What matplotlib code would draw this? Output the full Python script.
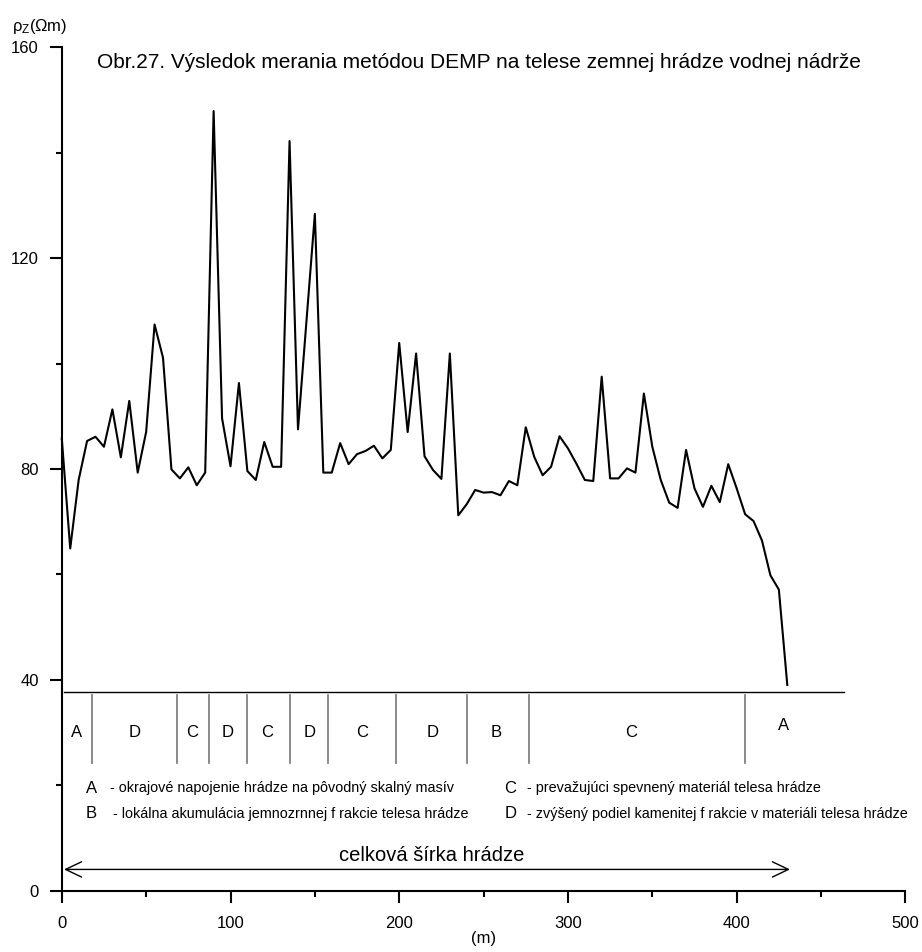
import matplotlib
matplotlib.use("Agg")
import matplotlib.pyplot as plt
from matplotlib.ticker import MultipleLocator

plt.rcParams['font.family'] = ['Liberation Sans', 'DejaVu Sans']
plt.rcParams['mathtext.fontset'] = 'custom'
plt.rcParams['mathtext.rm'] = 'Liberation Sans'
plt.rcParams['mathtext.it'] = 'Liberation Sans'

# distance along the dam (m) and apparent resistivity (Ohm m)
dist = [0, 5, 10, 15, 20, 25, 30, 35, 40, 45, 50, 55, 60, 65, 70, 75, 80, 85,
        90, 95, 100, 105, 110, 115, 120, 125, 130, 135, 140, 150, 155, 160,
        165, 170, 175, 180, 185, 190, 195, 200, 205, 210, 215, 220, 225, 230,
        235, 240, 245, 250, 255, 260, 265, 270, 275, 280, 285, 290, 295, 300,
        305, 310, 315, 320, 325, 330, 335, 340, 345, 350, 355, 360, 365, 370,
        375, 380, 385, 390, 395, 400, 405, 410, 415, 420, 425, 430]
rho = [85.8, 64.9, 77.9, 85.3, 86.1, 84.2, 91.3, 82.2, 92.9, 79.3, 87.0,
       107.4, 101.1, 79.9, 78.2, 80.3, 76.9, 79.3, 147.9, 89.6, 80.5, 96.3,
       79.6, 77.9, 85.1, 80.4, 80.4, 142.2, 87.5, 128.4, 79.3, 79.3, 84.9,
       80.9, 82.8, 83.4, 84.4, 82.0, 83.6, 103.9, 87.0, 101.9, 82.4, 79.8,
       78.1, 101.9, 71.2, 73.3, 76.0, 75.5, 75.6, 75.0, 77.7, 76.9, 87.9,
       82.3, 78.8, 80.4, 86.2, 83.9, 81.0, 77.9, 77.7, 97.5, 78.2, 78.2,
       80.1, 79.3, 94.3, 84.2, 77.9, 73.6, 72.6, 83.6, 76.3, 72.8, 76.8,
       73.7, 80.9, 76.3, 71.4, 70.1, 66.4, 59.8, 57.1, 39.0]

# zones along the dam
zone_bounds = [18, 68, 87, 110, 135, 158, 198, 240, 277, 405]
zone_letters = ['A', 'D', 'C', 'D', 'C', 'D', 'C', 'D', 'B', 'C', 'A']
zone_centers = [9, 43, 77, 98.5, 122, 147, 178, 219.5, 257.5, 337.5, 427.5]

legend_keys = ['A', 'B', 'C', 'D']
legend_texts = ['- okrajové napojenie hrádze na pôvodný skalný masív',
                '- lokálna akumulácia jemnozrnnej f rakcie telesa hrádze',
                '- prevažujúci spevnený materiál telesa hrádze',
                '- zvýšený podiel kamenitej f rakcie v materiáli telesa hrádze']

fig = plt.figure(figsize=(9.22, 9.52), dpi=100)
ax = fig.add_axes([0.067, 0.0646, 0.915, 0.8857])

ax.plot(dist, rho, color='black', lw=1.5, clip_on=False)

# zone strip
ax.plot([1.3, 463.7], [37.6, 37.6], color='black', lw=1.0)
for b in zone_bounds:
    ax.plot([b, b], [24.1, 37.1], color='#777777', lw=1.2)
for i, (c, l) in enumerate(zip(zone_centers, zone_letters)):
    yy = 31.4 if i == len(zone_letters) - 1 else 29.9
    ax.text(c, yy, l, ha='center', va='center', fontsize=12)

# legend of zones
leg_x = [17.5, 17.5, 266, 266]
leg_tx = [28.6, 30.5, 276, 276]
leg_y = [19.4, 14.6, 19.4, 14.6]
for k, t, x1, x2, y in zip(legend_keys, legend_texts, leg_x, leg_tx, leg_y):
    ax.text(x1, y, k, ha='center', va='center', fontsize=12)
    ax.text(x2, y, t, ha='left', va='center', fontsize=10.4)

# total width arrow
ax.annotate('', xy=(1.3, 4.0), xytext=(431.6, 4.0),
            arrowprops=dict(arrowstyle='<->,head_length=1.15,head_width=0.55',
                            color='black', lw=1.0, shrinkA=0, shrinkB=0))
ax.text(219, 6.7, 'celková šírka hrádze', ha='center', va='center', fontsize=14.5)

ax.set_xlim(0, 500)
ax.set_ylim(0, 160)
ax.xaxis.set_major_locator(MultipleLocator(100))
ax.xaxis.set_minor_locator(MultipleLocator(50))
ax.yaxis.set_major_locator(MultipleLocator(40))
ax.yaxis.set_minor_locator(MultipleLocator(20))
for s in ['top', 'right']:
    ax.spines[s].set_visible(False)
for s in ['left', 'bottom']:
    ax.spines[s].set_linewidth(1.5)
ax.tick_params(which='major', direction='out', length=8.6, width=1.5, labelsize=12)
ax.tick_params(which='minor', direction='out', length=4.3, width=1.5)
ax.tick_params(axis='y', which='major', pad=8)
ax.tick_params(axis='x', which='major', pad=10)

ax.set_xlabel('(m)', fontsize=12, labelpad=0)
fig.text(12 / 922, 1 - 26 / 952, r'$\rho_{\mathrm{Z}}$(Ωm)', fontsize=12,
         ha='left', va='center')
fig.text(97 / 922, 1 - 63 / 952,
         'Obr.27. Výsledok merania metódou DEMP na telese zemnej hrádze vodnej nádrže',
         ha='left', va='center', fontsize=15)

fig.savefig('out.png', dpi=100)
